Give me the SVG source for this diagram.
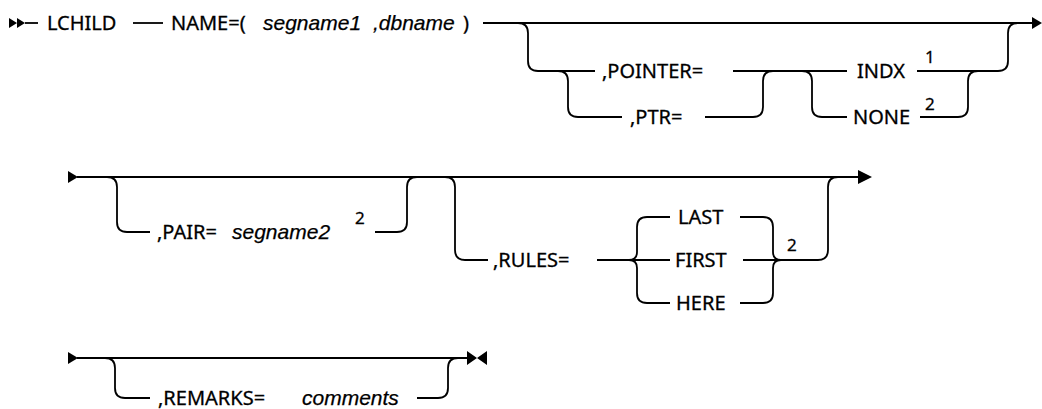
<svg xmlns="http://www.w3.org/2000/svg" width="1042" height="409" viewBox="0 0 1042 409">
<style>
.ln{fill:none;stroke:#000;stroke-width:1.8}
.ah{fill:#000;stroke:none}
.t{font-family:"Noto Sans","Liberation Sans",sans-serif;font-size:20px;fill:#000;stroke:#000;stroke-width:0.3}
.i{font-family:"Liberation Sans",Arial,sans-serif;font-size:21px;font-style:italic;fill:#000;stroke:#000;stroke-width:0.25}
.s{font-family:"Noto Sans","Liberation Sans",sans-serif;font-size:17px;fill:#000;stroke:#000;stroke-width:0.3}
</style>
<rect width="1042" height="409" fill="#fff"/>
<g id="connectors">
<path class="ah" d="M9,18 L17,23 L9,28 Z M17,18 L25,23 L17,28 Z"/>
<path class="ln" d="M25,23 H38"/>
<path class="ln" d="M133,23 H163"/>
<path class="ln" d="M483,23 H1034"/>
<path class="ah" d="M1032,17 L1042,23 L1032,29 Z"/>
<path class="ln" d="M518,23 Q528,23 528,33 V61 Q528,71 538,71 H595"/>
<path class="ln" d="M558,71 Q568,71 568,81 V107 Q568,117 578,117 H622"/>
<path class="ln" d="M705,117 H753 Q763,117 763,107 V81 Q763,71 773,71"/>
<path class="ln" d="M733,71 H847"/>
<path class="ln" d="M802,71 Q812,71 812,81 V107 Q812,117 822,117 H847"/>
<path class="ln" d="M917,71 H998 Q1008,71 1008,61 V33 Q1008,23 1018,23"/>
<path class="ln" d="M920,117 H958 Q968,117 968,107 V81 Q968,71 978,71"/>
<path class="ah" d="M68,171 L78,177 L68,183 Z"/>
<path class="ln" d="M77,177 H860"/>
<path class="ah" d="M858,170 L872,177 L858,184 Z"/>
<path class="ln" d="M107,177 Q117,177 117,187 V222 Q117,232 127,232 H150"/>
<path class="ln" d="M375,232 H397 Q407,232 407,222 V187 Q407,177 417,177"/>
<path class="ln" d="M445,177 Q455,177 455,187 V250 Q455,260 465,260 H488"/>
<path class="ln" d="M597,260 H670"/>
<path class="ln" d="M629,260 Q637,260 637,252 V227 Q637,217 647,217 H670"/>
<path class="ln" d="M629,260 Q637,260 637,268 V293 Q637,303 647,303 H670"/>
<path class="ln" d="M740,217 H763 Q773,217 773,227 V252 Q773,260 781,260"/>
<path class="ln" d="M740,303 H763 Q773,303 773,293 V268 Q773,260 781,260"/>
<path class="ln" d="M743,260 H818 Q828,260 828,250 V187 Q828,177 838,177"/>
<path class="ah" d="M68,352 L78,358 L68,364 Z"/>
<path class="ln" d="M77,358 H469"/>
<path class="ah" d="M467,351 L477,358 L467,365 Z M487,351 L477,358 L487,365 Z"/>
<path class="ln" d="M105,358 Q115,358 115,368 V388 Q115,398 125,398 H150"/>
<path class="ln" d="M417,398 H438 Q448,398 448,388 V368 Q448,358 458,358"/>
</g>
<g id="n-lchild"><text class="t" x="47" y="30">LCHILD</text></g>
<g id="n-name"><text class="t" x="171" y="30">NAME=(</text></g>
<g id="n-segname1"><text class="i" x="263" y="30">segname1</text></g>
<g id="n-dbname"><text class="i" x="373" y="30">,dbname</text></g>
<g id="n-paren"><text class="t" x="463" y="30">)</text></g>
<g id="n-pointer"><text class="t" x="602" y="78">,POINTER=</text></g>
<g id="n-ptr"><text class="t" x="630" y="124">,PTR=</text></g>
<g id="n-indx"><text class="t" x="857" y="78">INDX</text><text class="s" x="925" y="63">1</text></g>
<g id="n-none"><text class="t" x="853" y="124">NONE</text><text class="s" x="925" y="110">2</text></g>
<g id="n-pair"><text class="t" x="157" y="239">,PAIR=</text><text class="i" x="232" y="239">segname2</text><text class="s" x="355" y="224">2</text></g>
<g id="n-rules"><text class="t" x="493" y="267">,RULES=</text></g>
<g id="n-last"><text class="t" x="678" y="224">LAST</text></g>
<g id="n-first"><text class="t" x="675" y="267">FIRST</text></g>
<g id="n-here"><text class="t" x="676" y="310">HERE</text></g>
<g id="n-rules-note"><text class="s" x="787" y="251">2</text></g>
<g id="n-remarks"><text class="t" x="158" y="405">,REMARKS=</text><text class="i" x="302" y="405">comments</text></g>
</svg>
